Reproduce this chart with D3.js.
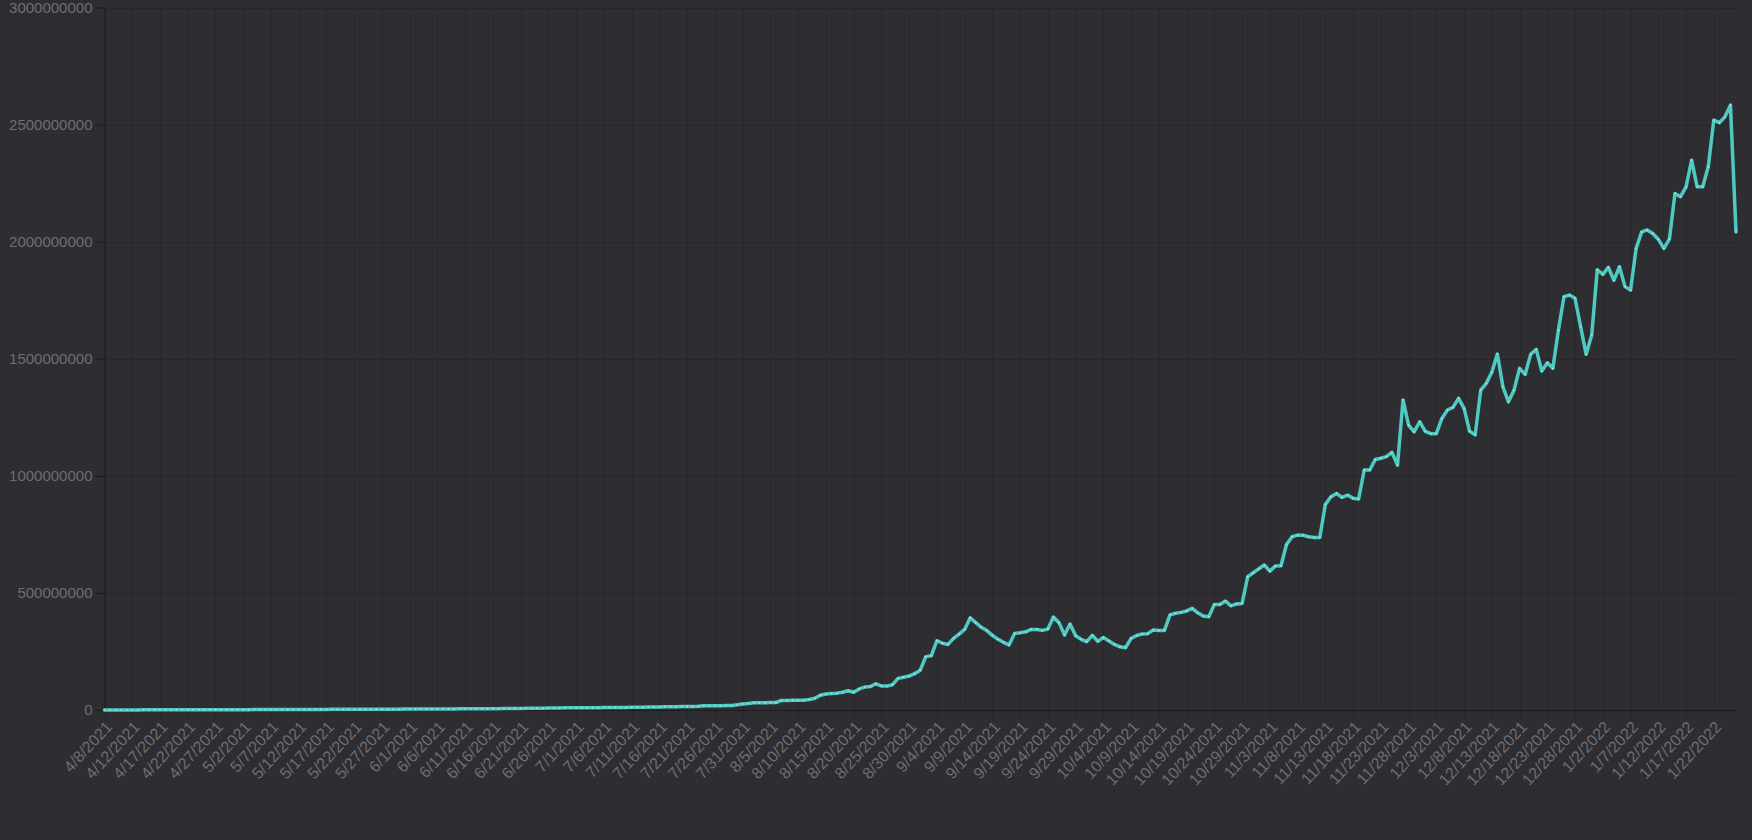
<!DOCTYPE html>
<html>
<head>
<meta charset="utf-8">
<script src="https://cdn.jsdelivr.net/npm/d3@7"></script>
<style>
  html, body { margin: 0; padding: 0; background: #2d2d32; }
  svg { display: block; }
  text { font-family: "Liberation Sans", Arial, Helvetica, sans-serif; }
</style>
</head>
<body>
<svg id="chart" width="1752" height="840"></svg>
<script>
// ---- data ----
const firstDate = "4/8/2021";
const lastDate = "1/26/2022";
// values in millions, one per category (295 points)
const valuesLow = [
  0.2, 0.3, 0.3, 0.4, 0.4, 0.5, 0.5, 0.6, 0.6, 0.7,
  0.7, 0.8, 0.8, 0.9, 0.9, 1.0, 1.0, 1.1, 1.1, 1.2,
  1.2, 1.3, 1.3, 1.4, 1.5, 1.5, 1.6, 1.7, 1.8, 1.8,
  1.9, 2.0, 2.0, 2.1, 2.2, 2.3, 2.3, 2.4, 2.5, 2.6,
  2.6, 2.7, 2.8, 2.9, 3.0, 3.0, 3.1, 3.2, 3.3, 3.4,
  3.5, 3.6, 3.6, 3.7, 3.8, 3.9, 4.0, 4.1, 4.2, 4.3,
  4.4, 4.5, 4.6, 4.8, 4.9, 5.0, 5.1, 5.2, 5.4, 5.5,
  5.6, 5.8, 6.0, 6.5, 6.7, 6.8, 7.0, 7.2, 7.4, 7.6,
  8.5, 8.8, 9.0, 9.2, 9.4, 9.5, 9.6, 9.8, 9.6, 9.9,
  10.2, 10.5, 10.8, 11.0, 11.2, 11.5, 11.8, 12.0, 12.3, 12.6
];
const valuesMid = [
  13, 13.5, 14, 14, 14.5, 15, 15, 16, 18, 18,
  18, 18.5, 19, 19, 22, 26, 28, 31, 31, 31,
  31.5, 32, 41, 41, 42, 42, 42, 45, 50, 63,
  68, 70, 72, 76, 82, 76, 90, 98, 100, 112,
  103, 102, 108, 135, 140, 145, 155, 170, 228, 232
];
const valuesHigh = [
  296, 285, 280, 306, 324, 344, 394, 373, 353, 339,
  319, 302, 289, 278, 327, 330, 334, 344, 344, 340,
  346, 397, 373, 320, 367, 317, 302, 292, 319, 293,
  310, 295, 280, 270, 266, 306, 318, 325, 326, 342,
  340, 340, 406, 413, 417, 423, 434, 415, 401, 398,
  451, 451, 465, 445, 453, 455, 569, 586, 603, 619,
  593, 615, 616, 707, 740, 747, 746, 740, 737, 737,
  878, 911, 925, 908, 918, 904, 901, 1025, 1025, 1070,
  1075, 1082, 1100, 1046, 1324, 1217, 1188, 1231, 1190, 1180,
  1180, 1245, 1281, 1292, 1331, 1288, 1190, 1175, 1366, 1395,
  1442, 1520, 1380, 1316, 1366, 1459, 1433, 1519, 1540, 1447,
  1483, 1459, 1623, 1765, 1772, 1758, 1637, 1519, 1601, 1880,
  1860, 1890, 1835, 1893, 1808, 1793, 1971, 2042, 2050, 2035,
  2010, 1971, 2011, 2206, 2192, 2234, 2348, 2234, 2234, 2320,
  2519, 2508, 2533, 2583, 2042
];
const values = valuesLow.concat(valuesMid, valuesHigh).map(v => v * 1e6);
const yTicks = [0, 500000000, 1000000000, 1500000000, 2000000000, 2500000000, 3000000000];
const labelEvery = 5;

// categories: daily dates (the source repeats its first day once)
const fmt = d3.timeFormat("%-m/%-d/%Y");
const parse = d3.timeParse("%m/%d/%Y");
const dayList = d3.timeDay.range(parse(firstDate), d3.timeDay.offset(parse(lastDate), 1)).map(fmt);
const categories = [firstDate].concat(dayList);

// ---- layout ----
const W = 1752, H = 840;
const m = { left: 104.5, right: 16, top: 7.5, bottom: 130 };
const svg = d3.select("#chart");
svg.append("rect").attr("width", W).attr("height", H).attr("fill", "#2d2d32");

const x = d3.scaleLinear().domain([0, categories.length - 1]).range([m.left, W - m.right]);
const y = d3.scaleLinear().domain([0, 3000000000]).range([H - m.bottom, m.top]);

const gridColor = "#27272b";
const axisColor = "#1c1c1f";
const textColor = "#6e6e73";

const tickIdx = d3.range(0, categories.length, labelEvery);

// horizontal grid
svg.append("g").selectAll("line").data(yTicks).join("line")
  .attr("x1", m.left).attr("x2", W - m.right)
  .attr("y1", d => Math.round(y(d)) + 0.5).attr("y2", d => Math.round(y(d)) + 0.5)
  .attr("stroke", gridColor).attr("stroke-width", 1);

// vertical grid
svg.append("g").selectAll("line").data(tickIdx).join("line")
  .attr("x1", d => Math.round(x(d)) + 0.5).attr("x2", d => Math.round(x(d)) + 0.5)
  .attr("y1", m.top).attr("y2", H - m.bottom + 8)
  .attr("stroke", gridColor).attr("stroke-width", 1);

// y axis
const yAxis = d3.axisLeft(y).tickValues(yTicks).tickFormat(d3.format("d")).tickSize(9).tickPadding(3);
const gy = svg.append("g").attr("transform", `translate(${m.left},0)`).call(yAxis);
gy.select(".domain").attr("stroke", axisColor).attr("d", `M0.5,${m.top}V${H - m.bottom}`);
gy.selectAll(".tick line").attr("stroke", axisColor);
gy.selectAll(".tick text").attr("fill", textColor).style("font-size", "15px")
  .style("font-family", '"Liberation Sans", Arial, sans-serif');

// x axis
const xAxis = d3.axisBottom(x).tickValues(tickIdx).tickFormat(i => categories[i]).tickSize(0).tickPadding(0);
const gx = svg.append("g").attr("transform", `translate(0,${H - m.bottom})`).call(xAxis);
gx.select(".domain").attr("stroke", axisColor).attr("d", `M${m.left},0.5H${W - m.right}`);
gx.selectAll(".tick text")
  .attr("fill", textColor).style("font-size", "16px")
  .style("font-family", '"Liberation Sans", Arial, sans-serif')
  .attr("text-anchor", "end")
  .attr("dy", "0.35em")
  .attr("transform", "translate(4,14) rotate(-47)");

// line
const line = d3.line().x((d, i) => x(i)).y(d => y(d));
svg.append("path").datum(values)
  .attr("fill", "none").attr("stroke", "#4ecac3").attr("stroke-width", 3.5)
  .attr("stroke-linejoin", "round").attr("stroke-linecap", "round")
  .attr("d", line);

svg.append("g").selectAll("circle").data(values).join("circle")
  .attr("cx", (d, i) => x(i)).attr("cy", d => y(d)).attr("r", 0.9)
  .attr("fill", "rgba(230,255,252,0.55)");
</script>
</body>
</html>
